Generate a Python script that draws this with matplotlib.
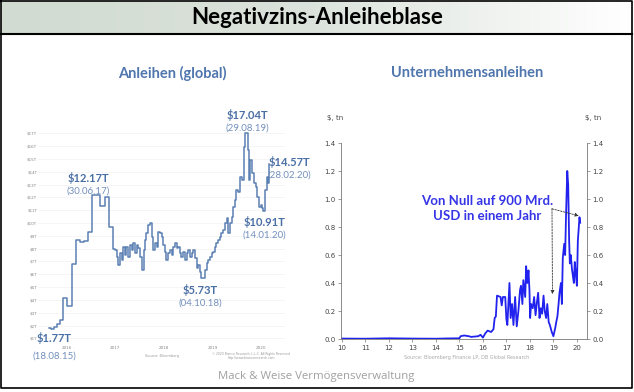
import numpy as np
import matplotlib.pyplot as plt
from matplotlib.colors import LinearSegmentedColormap

# linkes Diagramm: negativ rentierende Anleihen weltweit, Bio. USD
glob_years = [2015.63, 2015.68, 2015.74, 2015.80, 2015.86, 2015.92, 2016.00, 2016.10,
              2016.19, 2016.27, 2016.35, 2016.44, 2016.52, 2016.68, 2016.78, 2016.87,
              2016.95, 2016.99, 2017.03, 2017.06, 2017.10, 2017.13, 2017.16, 2017.20,
              2017.23, 2017.27, 2017.30, 2017.34, 2017.37, 2017.40, 2017.44, 2017.47,
              2017.51, 2017.54, 2017.58, 2017.61, 2017.64, 2017.68, 2017.71, 2017.75,
              2017.78, 2017.82, 2017.85, 2017.88, 2017.92, 2017.95, 2017.99, 2018.02,
              2018.05, 2018.09, 2018.12, 2018.16, 2018.19, 2018.23, 2018.26, 2018.29,
              2018.33, 2018.36, 2018.40, 2018.43, 2018.47, 2018.50, 2018.53, 2018.57,
              2018.60, 2018.64, 2018.67, 2018.71, 2018.74, 2018.76, 2018.84, 2018.88,
              2018.91, 2018.95, 2018.98, 2019.01, 2019.05, 2019.08, 2019.12, 2019.15,
              2019.18, 2019.22, 2019.25, 2019.29, 2019.32, 2019.36, 2019.39, 2019.42,
              2019.46, 2019.49, 2019.53, 2019.56, 2019.60, 2019.64, 2019.67, 2019.73,
              2019.75, 2019.78, 2019.82, 2019.86, 2019.89, 2019.92, 2019.95, 2019.99,
              2020.02, 2020.04, 2020.08, 2020.12, 2020.14, 2020.16]
glob_values = [1.77, 1.72, 1.90, 2.15, 2.45, 4.15, 3.55, 6.80,
               8.70, 8.50, 8.60, 9.30, 12.17, 11.35, 12.00, 9.70,
               8.00, 7.89, 7.37, 6.72, 7.63, 7.11, 8.15, 7.50,
               8.15, 7.37, 8.28, 7.89, 8.41, 7.63, 8.28, 8.02,
               7.37, 6.33, 7.89, 8.67, 9.19, 9.84, 9.97, 8.93,
               7.89, 8.41, 8.15, 9.32, 9.19, 8.93, 8.28, 7.76,
               7.11, 7.63, 7.89, 7.50, 8.15, 8.41, 8.02, 8.15,
               7.63, 7.37, 7.76, 7.11, 7.63, 7.89, 7.37, 7.63,
               7.89, 7.24, 6.46, 6.72, 6.20, 5.73, 6.33, 6.85,
               7.11, 7.37, 7.63, 7.76, 8.15, 8.41, 8.67, 8.93,
               9.19, 9.45, 9.97, 10.37, 9.19, 9.97, 10.50, 11.28,
               11.80, 12.58, 12.45, 13.62, 13.36, 15.96, 17.04, 15.70,
               13.36, 14.92, 13.88, 13.10, 12.84, 12.06, 11.28, 11.41,
               11.15, 10.91, 12.58, 13.62, 13.10, 14.57]
glob_xticks = [2016, 2017, 2018, 2019, 2020]
glob_yticks = list(range(1, 18))

# markierte Punkte: Wert, Datum, Position
glob_marks = [("$1.77T", "(18.08.15)", 2015.74, 1.02, -0.35),
              ("$12.17T", "(30.06.17)", 2016.44, 13.51, 12.50),
              ("$17.04T", "(29.08.19)", 2019.71, 18.42, 17.40),
              ("$14.57T", "(28.02.20)", 2020.59, 14.76, 13.75),
              ("$10.91T", "(14.01.20)", 2020.07, 10.08, 9.06),
              ("$5.73T", "(04.10.18)", 2018.74, 4.77, 3.76)]

# rechtes Diagramm: negativ rentierende Unternehmensanleihen, Bio. USD
corp_years = [10.0, 11.0, 12.0, 13.0, 14.0, 14.5, 15.0, 15.05, 15.2, 15.4, 15.5, 15.8,
              15.9, 16.0, 16.1, 16.2, 16.35, 16.45, 16.5, 16.55, 16.6, 16.75, 16.8, 16.85,
              16.95, 17.0, 17.04, 17.13, 17.18, 17.24, 17.30, 17.37, 17.44, 17.51, 17.58,
              17.62, 17.68, 17.72, 17.80, 17.84, 17.89, 17.94, 17.98, 18.01, 18.05, 18.12,
              18.18, 18.24, 18.29, 18.35, 18.41, 18.46, 18.52, 18.58, 18.63, 18.69, 18.74,
              18.80, 18.85, 18.93, 19.00, 19.08, 19.12, 19.17, 19.22, 19.26, 19.32, 19.36,
              19.40, 19.46, 19.50, 19.54, 19.59, 19.63, 19.67, 19.70, 19.74, 19.79, 19.83,
              19.87, 19.91, 19.96, 20.00, 20.04, 20.09, 20.11, 20.14]
corp_values = [0.003, 0.002, 0.005, 0.003, 0.002, 0.004, 0.005, 0.02, 0.025, 0.02, 0.015, 0.02,
               0.03, 0.01, 0.04, 0.06, 0.05, 0.07, 0.15, 0.16, 0.31, 0.30, 0.24, 0.30,
               0.30, 0.14, 0.10, 0.40, 0.15, 0.25, 0.10, 0.30, 0.09, 0.20, 0.35,
               0.38, 0.25, 0.42, 0.30, 0.52, 0.40, 0.49, 0.35, 0.15, 0.25, 0.22,
               0.30, 0.17, 0.25, 0.33, 0.15, 0.22, 0.18, 0.31, 0.20, 0.15, 0.25,
               0.12, 0.10, 0.05, 0.02, 0.08, 0.12, 0.16, 0.25, 0.33, 0.40, 0.25,
               0.58, 0.68, 0.60, 0.90, 1.20, 1.10, 0.70, 0.54, 0.60, 0.50, 0.45,
               0.40, 0.55, 0.45, 0.38, 0.70, 0.82, 0.87, 0.83]
corp_xticks = list(range(10, 21))
corp_yticks = [0.0, 0.2, 0.4, 0.6, 0.8, 1.0, 1.2, 1.4]

W, H = 634, 392


def fx(x):
    return x / W


def fy(y):
    return 1 - y / H


fig = plt.figure(figsize=(W / 100, H / 100), dpi=100)

# Titelleiste mit Verlauf
tb = fig.add_axes([fx(1), fy(34), fx(631), 33 / H])
cmap = LinearSegmentedColormap.from_list("bar", ["#d1dbd1", "#dce3dc", "#ffffff"])
tb.imshow(np.linspace(0, 1, 256)[None, :], aspect="auto", cmap=cmap, extent=[0, 1, 0, 1])
tb.set_axis_off()
fig.text(fx(317), fy(18), "Negativzins-Anleiheblase", ha="center", va="center",
         fontsize=16, fontweight="bold", family="Lato", color="black")

# Rahmen
fig.add_artist(plt.Line2D([fx(1), fx(632), fx(632), fx(1), fx(1)],
                          [fy(1), fy(1), fy(388), fy(388), fy(1)],
                          transform=fig.transFigure, color="black", lw=1.2))
fig.add_artist(plt.Line2D([fx(1), fx(632)], [fy(34), fy(34)],
                          transform=fig.transFigure, color="black", lw=1.5))

title_col = "#4f76ad"
fig.text(fx(172), fy(73), "Anleihen (global)", ha="center", va="center",
         fontsize=10.5, family="Lato", fontweight="bold", color=title_col)
fig.text(fx(467), fy(73), "Unternehmensanleihen", ha="center", va="center",
         fontsize=10.5, family="Lato", fontweight="bold", color=title_col)

# linkes Diagramm
ax1 = fig.add_axes([fx(38), fy(345), 247 / W, 220 / H])
ax1.plot(glob_years, glob_values, drawstyle="steps-post", color="#5b80b3", lw=1.1)
ax1.set_xlim(2015.41, 2020.49)
ax1.set_ylim(0.48, 17.65)
ax1.set_xticks(glob_xticks)
ax1.set_xticklabels([str(v) for v in glob_xticks])
ax1.set_yticks(glob_yticks)
ax1.set_yticklabels(["$%dT" % v for v in glob_yticks])
ax1.tick_params(length=0, labelsize=3, labelcolor="#888888", pad=0.5)
ax1.grid(axis="y", color="#f2f2f2", lw=0.5)
for s in ax1.spines.values():
    s.set_visible(False)
for lab, dat, x, y, yd in glob_marks:
    ax1.text(x, y, lab, ha="center", va="center", fontsize=8, fontweight="bold",
             family="Lato", color="#4a6fa5", clip_on=False)
    ax1.text(x, yd, dat, ha="center", va="center", fontsize=7,
             family="Lato", color="#7390bd", clip_on=False)
fig.text(fx(162), fy(356), "Source: Bloomberg", ha="center", va="center", fontsize=2.5, color="#999999")
fig.text(fx(251), fy(356), "\u00a9 2020 Bianco Research, L.L.C. All Rights Reserved\nhttp://www.biancoresearch.com",
         ha="center", va="center", fontsize=2.2, color="#999999", linespacing=1.0)

# rechtes Diagramm
ax2 = fig.add_axes([fx(341), fy(339), (587 - 341) / W, (339 - 143) / H])
ax2.plot(corp_years, corp_values, color="#2222ee", lw=1.3)
ax2.set_xlim(9.96, 20.43)
ax2.set_ylim(0, 1.4)
ax2.set_xticks(corp_xticks)
ax2.set_yticks(corp_yticks)
ax2.set_yticklabels(["%.1f" % v for v in corp_yticks])
ax2.spines["top"].set_visible(False)
for s in ["left", "right", "bottom"]:
    ax2.spines[s].set_color("#777777")
    ax2.spines[s].set_linewidth(0.6)
ax2.tick_params(direction="out", length=2, width=0.5, color="#777777",
                labelsize=5, labelcolor="#444444", pad=2)
ax2.tick_params(axis="y", right=True, labelright=True)
ax2.annotate("", xy=(20.08, 0.88), xytext=(18.94, 0.93),
             arrowprops=dict(arrowstyle="-|>", ls=(0, (2, 1.5)), lw=0.6, color="#333333",
                             mutation_scale=5, shrinkA=0, shrinkB=0))
ax2.annotate("", xy=(18.96, 0.32), xytext=(18.94, 0.93),
             arrowprops=dict(arrowstyle="-|>", ls=(0, (2, 1.5)), lw=0.6, color="#333333",
                             mutation_scale=5, shrinkA=0, shrinkB=0))
ax2.text(16.17, 0.935, "Von Null auf 900 Mrd.\nUSD in einem Jahr", ha="center", va="center",
         fontsize=9.5, fontweight="bold", family=["Liberation Sans Narrow", "Lato"],
         color="#3535e6", linespacing=1.3)
fig.text(fx(335), fy(118), "$, tn", ha="center", va="center", fontsize=5, color="#444444")
fig.text(fx(593), fy(118), "$, tn", ha="center", va="center", fontsize=5, color="#444444")
fig.text(fx(467), fy(357), "Source: Bloomberg Finance LP, DB Global Research", ha="center",
         va="center", fontsize=3.5, color="#aaaaaa")

fig.text(fx(316), fy(376), "Mack & Weise Vermögensverwaltung", ha="center", va="center",
         fontsize=8.2, family="Open Sans", color="#a0a0a0")

fig.savefig("out.png", dpi=100)
